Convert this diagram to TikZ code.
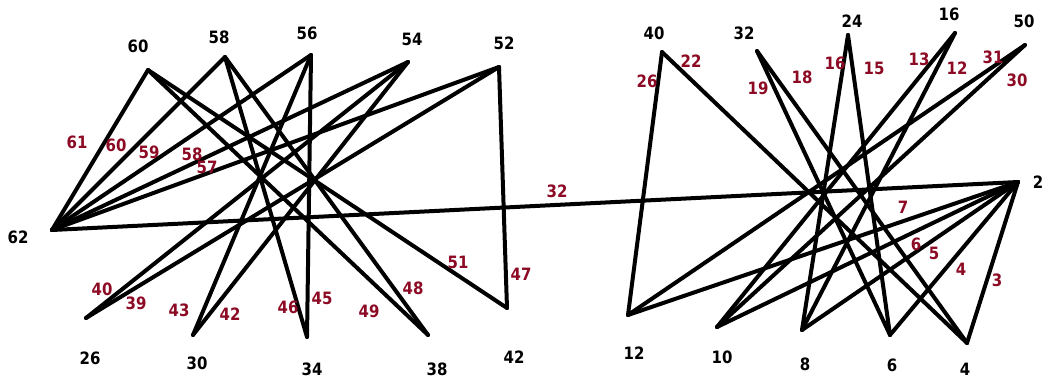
\documentclass[tikz,border=0pt]{standalone}
\usepackage{fontspec}
\setmainfont{DejaVu Sans}[FakeStretch=0.88]
\usepackage{tikz}
\usetikzlibrary{positioning}
\usepackage{xcolor}
\definecolor{vinho}{RGB}{140, 10, 35}
\tikzset{
  rotulo/.style={
    font=\fontsize{17}{17}\selectfont\bfseries, text=black, inner sep=0pt
  },
  peso/.style={rotulo, text=vinho},
  aresta/.style={line width=4pt, line cap=round, line join=round, black},
}

\begin{document}
\begin{tikzpicture}[
    x=1pt,
    y=-1pt
]

\useasboundingbox (0,0) rectangle (1042,380);

% vertices
\coordinate (v62) at (52,230);
\coordinate (v60) at (148,70);
\coordinate (v58) at (225,57);
\coordinate (v56) at (311,55);
\coordinate (v54) at (408,62);
\coordinate (v52) at (499,67);
\coordinate (v26) at (86,318);
\coordinate (v30) at (193,335);
\coordinate (v34) at (307,337);
\coordinate (v38) at (428,335);
\coordinate (v42) at (507,308);

\coordinate (v40) at (662,52);
\coordinate (v32) at (757,51);
\coordinate (v24) at (848,35);
\coordinate (v16) at (955,33);
\coordinate (v50) at (1025,45);
\coordinate (v2) at (1018,182);
\coordinate (v12) at (628,315);
\coordinate (v10) at (717,327);
\coordinate (v8) at (802,330);
\coordinate (v6) at (890,335);
\coordinate (v4) at (967,343);

% rotulos dos vertices
\node[rotulo] (r62) at (18,237) {62};
\node[rotulo] (r60) at (138,46) {60};
\node[rotulo] (r58) at (219,37) {58};
\node[rotulo] (r56) at (307,33) {56};
\node[rotulo] (r54) at (412,39) {54};
\node[rotulo] (r52) at (504,43) {52};
\node[rotulo] (r26) at (90,358) {26};
\node[rotulo] (r30) at (197,363) {30};
\node[rotulo] (r34) at (312,369) {34};
\node[rotulo] (r38) at (437,369) {38};
\node[rotulo] (r42) at (514,357) {42};

\node[rotulo] (r40) at (654,33) {40};
\node[rotulo] (r32) at (744,33) {32};
\node[rotulo] (r24) at (852,21) {24};
\node[rotulo] (r16) at (949,14) {16};
\node[rotulo] (r50) at (1024,21) {50};
\node[rotulo] (r2) at (1038,182) {2};
\node[rotulo] (r12) at (634,353) {12};
\node[rotulo] (r10) at (722,357) {10};
\node[rotulo] (r8) at (805,364) {8};
\node[rotulo] (r6) at (892,365) {6};
\node[rotulo] (r4) at (965,369) {4};

% arestas
\draw[aresta] (v62) -- (v60);
\draw[aresta] (v62) -- (v58);
\draw[aresta] (v62) -- (v56);
\draw[aresta] (v62) -- (v54);
\draw[aresta] (v62) -- (v52);
\draw[aresta] (v62) -- (v2);
\draw[aresta] (v60) -- (v38);
\draw[aresta] (v60) -- (v42);
\draw[aresta] (v58) -- (v34);
\draw[aresta] (v58) -- (v38);
\draw[aresta] (v56) -- (v30);
\draw[aresta] (v56) -- (v34);
\draw[aresta] (v54) -- (v26);
\draw[aresta] (v54) -- (v30);
\draw[aresta] (v52) -- (v26);
\draw[aresta] (v52) -- (v42);

\draw[aresta] (v40) -- (v12);
\draw[aresta] (v40) -- (v4);
\draw[aresta] (v32) -- (v6);
\draw[aresta] (v32) -- (v4);
\draw[aresta] (v24) -- (v8);
\draw[aresta] (v24) -- (v6);
\draw[aresta] (v16) -- (v10);
\draw[aresta] (v16) -- (v8);
\draw[aresta] (v50) -- (v12);
\draw[aresta] (v50) -- (v10);
\draw[aresta] (v2) -- (v12);
\draw[aresta] (v2) -- (v10);
\draw[aresta] (v2) -- (v8);
\draw[aresta] (v2) -- (v6);
\draw[aresta] (v2) -- (v4);

% pesos das arestas
\node[peso] (p61) at (77,142) {61};
\node[peso] (p60) at (116,145) {60};
\node[peso] (p59) at (149,152) {59};
\node[peso] (p58) at (192,154) {58};
\node[peso] (p57) at (207,167) {57};
\node[peso] (p32) at (557,191) {32};
\node[peso] (p40) at (102,289) {40};
\node[peso] (p39) at (136,303) {39};
\node[peso] (p43) at (179,310) {43};
\node[peso] (p42) at (230,314) {42};
\node[peso] (p46) at (288,307) {46};
\node[peso] (p45) at (322,298) {45};
\node[peso] (p49) at (369,311) {49};
\node[peso] (p48) at (413,288) {48};
\node[peso] (p51) at (458,262) {51};
\node[peso] (p47) at (521,274) {47};

\node[peso] (p26) at (647,81) {26};
\node[peso] (p22) at (691,61) {22};
\node[peso] (p19) at (758,88) {19};
\node[peso] (p18) at (802,77) {18};
\node[peso] (p16) at (835,63) {16};
\node[peso] (p15) at (874,68) {15};
\node[peso] (p13) at (919,59) {13};
\node[peso] (p12) at (957,68) {12};
\node[peso] (p31) at (993,57) {31};
\node[peso] (p30) at (1017,80) {30};
\node[peso] (p7) at (903,207) {7};
\node[peso] (p6) at (916,244) {6};
\node[peso] (p5) at (934,253) {5};
\node[peso] (p4) at (961,269) {4};
\node[peso] (p3) at (997,280) {3};

\end{tikzpicture}
\end{document}
